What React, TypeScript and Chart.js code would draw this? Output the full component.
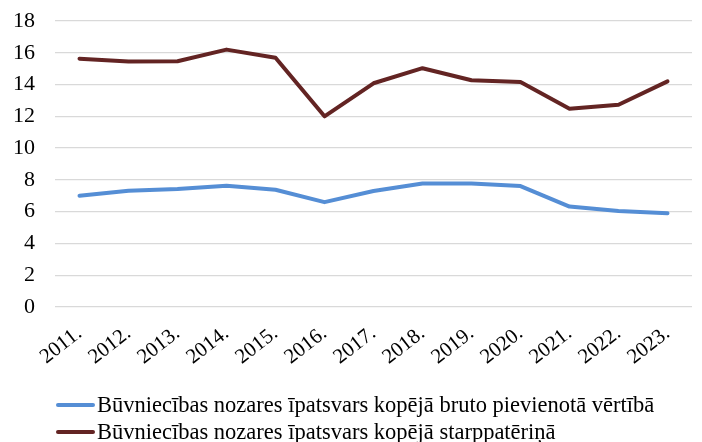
import React, { useEffect, useRef } from "react";
import { Chart, registerables } from "chart.js";

Chart.register(...registerables);

const categories = ["2011.", "2012.", "2013.", "2014.", "2015.", "2016.", "2017.", "2018.", "2019.", "2020.", "2021.", "2022.", "2023."];
const bruto = [7.0, 7.32, 7.42, 7.63, 7.38, 6.6, 7.3, 7.77, 7.77, 7.61, 6.32, 6.04, 5.9];
const starp = [15.63, 15.45, 15.47, 16.2, 15.69, 12.0, 14.08, 15.03, 14.27, 14.16, 12.48, 12.73, 14.2];
const labels = [
  "Būvniecības nozares īpatsvars kopējā bruto pievienotā vērtībā",
  "Būvniecības nozares īpatsvars kopējā starppatēriņā",
];
const colors = ["#558ED5", "#632423"];
const yTicks = { min: 0, max: 18, step: 2 };

const FONT = "'Liberation Serif', 'Times New Roman', serif";

export default function App() {
  const ref = useRef<HTMLCanvasElement>(null);
  useEffect(() => {
    if (!ref.current) return;
    const chart = new Chart(ref.current, {
      type: "line",
      data: {
        labels: categories,
        datasets: [
          { label: labels[0], data: bruto, borderColor: colors[0], backgroundColor: colors[0], borderWidth: 4, pointRadius: 0, tension: 0, borderCapStyle: "round", borderJoinStyle: "round" },
          { label: labels[1], data: starp, borderColor: colors[1], backgroundColor: colors[1], borderWidth: 4, pointRadius: 0, tension: 0, borderCapStyle: "round", borderJoinStyle: "round" },
        ],
      },
      options: {
        animation: false,
        responsive: false,
        layout: { padding: { top: 21, right: 10, left: 0, bottom: 0 } },
        plugins: { legend: { display: false }, tooltip: { enabled: false } },
        scales: {
          x: {
            offset: true,
            grid: { display: false, drawTicks: false },
            border: { display: false },
            ticks: { color: "#000", font: { family: FONT, size: 21 }, minRotation: 38, maxRotation: 38, padding: 14, autoSkip: false },
            afterFit: (s: any) => { s.height = 78; s.paddingLeft = 0; s.paddingRight = 0; },
          },
          y: {
            min: yTicks.min,
            max: yTicks.max,
            grid: { color: "#d9d9d9", lineWidth: 1.3, drawTicks: false },
            border: { display: false },
            ticks: { stepSize: yTicks.step, color: "#000", font: { family: FONT, size: 22 }, padding: 20 },
            afterFit: (s: any) => { s.width = 55; s.paddingTop = 0; s.paddingBottom = 0; },
          },
        },
      },
    });
    return () => chart.destroy();
  }, []);

  return (
    <div style={{ position: "fixed", left: 0, top: 0, width: 702, height: 442, background: "#fff" }}>
      <canvas ref={ref} width={702} height={385} style={{ display: "block" }} />
      <div style={{ position: "absolute", left: 56, top: 391, fontFamily: FONT, fontSize: 22.5, color: "#000", lineHeight: "27px" }}>
        {labels.map((l, i) => (
          <div key={i} style={{ display: "flex", alignItems: "center", whiteSpace: "nowrap" }}>
            <span style={{ display: "inline-block", width: 39, height: 4, background: colors[i], borderRadius: 2, marginRight: 2 }} />
            <span>{l}</span>
          </div>
        ))}
      </div>
    </div>
  );
}
